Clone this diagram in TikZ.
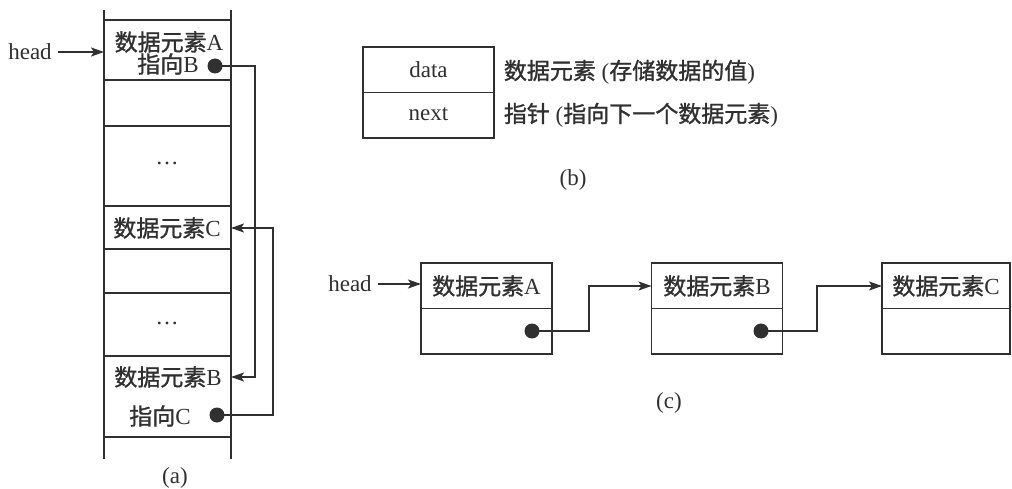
\documentclass[tikz,border=0pt]{standalone}
\usepackage{fontspec}
\setmainfont{Liberation Serif}
\newfontfamily\cjk{Noto Sans CJK SC}[FakeBold=1.2]
\usetikzlibrary{arrows.meta}
\definecolor{ink}{HTML}{303030}
\begin{document}
\begin{tikzpicture}[x=1pt,y=-1pt, line width=1.8pt, draw=ink, text=ink,
  lbl/.style={font=\fontsize{23}{24}\selectfont, inner sep=0pt, text=ink},
  arr/.style={draw=ink, line width=1.8pt, -{Stealth[length=13pt,width=9pt,inset=3pt]}},
  conn/.style={draw=ink, line width=1.8pt},
  dotn/.style={circle, fill=ink, draw=none, inner sep=0pt, minimum size=15pt},
  colcell/.style={draw=ink, line width=1.8pt, rectangle, inner sep=0pt, outer sep=0pt, minimum width=127pt},
  box/.style={draw=ink, line width=1.8pt, rectangle, inner sep=0pt, outer sep=0pt, minimum width=131pt, minimum height=91pt}]
\useasboundingbox (0,0) rectangle (1012,489);
\fill[white] (0,0) rectangle (1012,489);

% ---------- (a) ----------
\draw[conn] (104,10) -- (104,459);
\draw[conn] (231,10) -- (231,459);
\node[colcell, minimum height=60pt] (cA) at (167.5,50) {};
\node[colcell, minimum height=46pt] (cE1) at (167.5,103) {};
\node[colcell, minimum height=80pt] (cD1) at (167.5,166) {};
\node[colcell, minimum height=43pt] (cC) at (167.5,227.5) {};
\node[colcell, minimum height=44pt] (cE2) at (167.5,271) {};
\node[colcell, minimum height=63pt] (cD2) at (167.5,324.5) {};
\node[colcell, minimum height=81pt] (cB) at (167.5,396.5) {};

\node[lbl] (tA) at (169,42) {{\cjk 数据元素}A};
\node[lbl] (tAB) at (168,64) {{\cjk 指向}B};
\node[dotn] (dA) at (215,66) {};
\node[lbl] at (167,163) {\ldots};
\node[lbl] (tC) at (167,228) {{\cjk 数据元素}C};
\node[lbl] at (167,323) {\ldots};
\node[lbl] (tB) at (168,377) {{\cjk 数据元素}B};
\node[lbl] (tBC) at (160,416) {{\cjk 指向}C};
\node[dotn] (dB) at (217,415) {};

\node[lbl] (headA) at (30,52) {head};
\draw[arr] ([xshift=5pt]headA.east) -- (cA.west |- headA);

\draw[arr] (dA.center) -- ++(40,0) |- (tB.center -| cB.east);
\draw[arr] (dB.center) -- ++(56,0) |- (tC.center -| cC.east);

\node[lbl] (la) at (175,478) {(a)};

% ---------- (b) ----------
\node[box] (bx) at (428.5,92.5) {};
\draw[conn] (bx.west) -- (bx.east);
\node[lbl] (bd) at (428.5,70) {data};
\node[lbl] (bn) at (428.5,114) {next};
\node[lbl, anchor=west] (bdl) at (503,72) {{\cjk 数据元素} ({\cjk 存储数据的值})};
\node[lbl, anchor=west] (bnl) at (503,115) {{\cjk 指针} ({\cjk 指向下一个数据元素})};
\node[lbl] (lb) at (573,180) {(b)};

% ---------- (c) ----------
\node[box] (A) at (486.5,308.5) {};
\draw[conn] (A.west) -- (A.east);
\node[lbl] (tcA) at (486.5,286) {{\cjk 数据元素}A};
\node[box] (B) at (717,308.5) {};
\draw[conn] (B.west) -- (B.east);
\node[lbl] (tcB) at (717,286) {{\cjk 数据元素}B};
\node[box, minimum width=128pt] (C) at (946,308.5) {};
\draw[conn] (C.west) -- (C.east);
\node[lbl] (tcC) at (946,286) {{\cjk 数据元素}C};

\node[dotn] (dcA) at (532,331) {};
\node[dotn] (dcB) at (761,331) {};

\node[lbl] (headC) at (350,284) {head};
\draw[arr] ([xshift=5pt]headC.east) -- (A.west |- headC);
\draw[arr] (dcA.center) -- ++(57,0) |- (B.west |- tcB);
\draw[arr] (dcB.center) -- ++(56,0) |- (C.west |- tcC);

\node[lbl] (lc) at (669,403) {(c)};
\end{tikzpicture}
\end{document}
